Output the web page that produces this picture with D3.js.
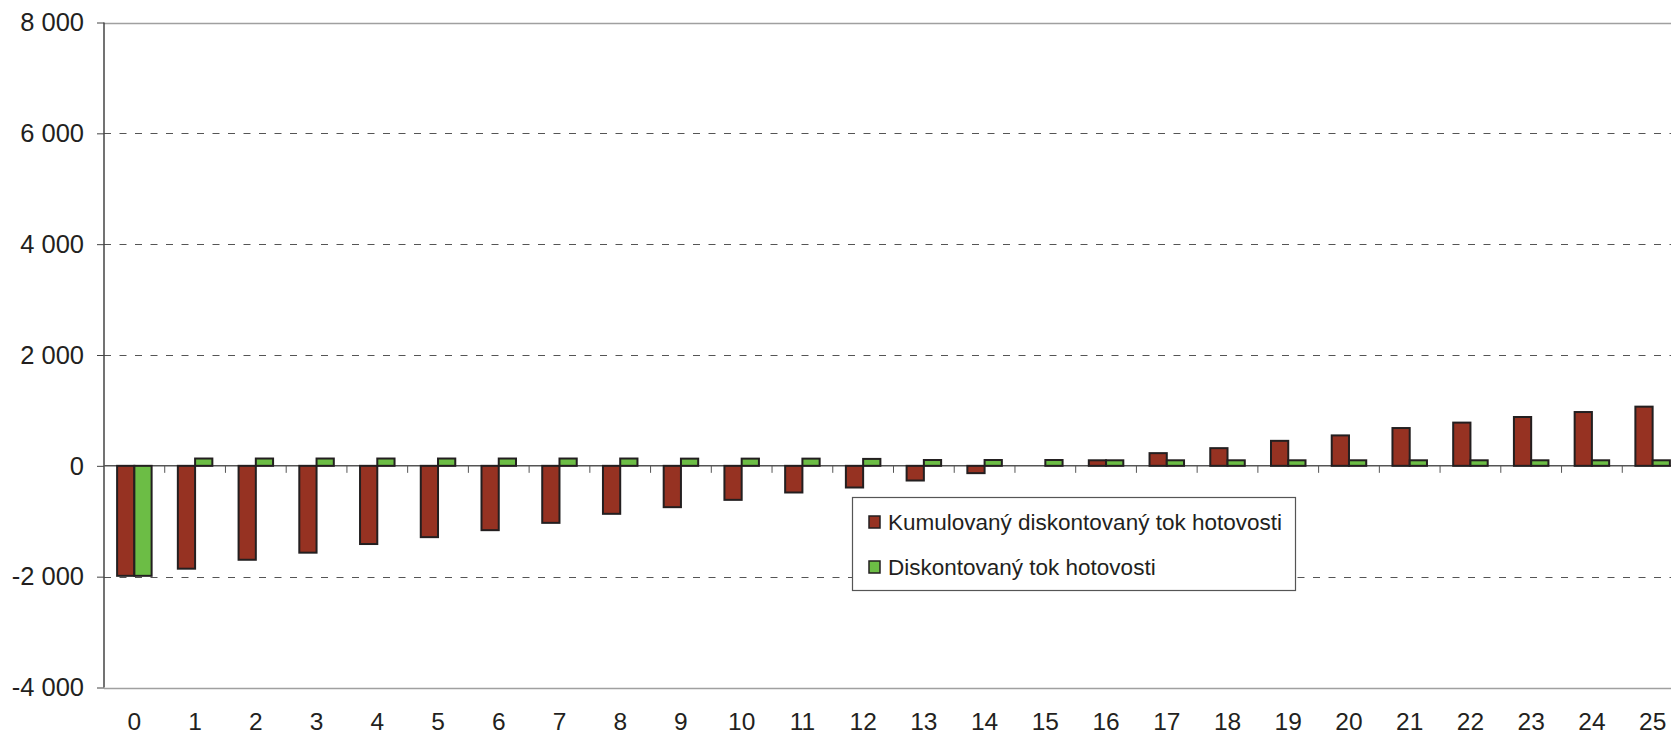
<!DOCTYPE html>
<html>
<head>
<meta charset="utf-8">
<script src="https://cdn.jsdelivr.net/npm/d3@7"></script>
<style>
    body { margin: 0; background: #fff; }
    svg { display: block; font-family: 'Liberation Sans', Arial, sans-serif; }
</style>
</head>
<body>
<div id="chart"></div>
<script>
const years = d3.range(0, 26).map(String);
const cumulative = [-1985, -1856, -1695, -1567, -1411, -1287, -1161, -1029, -866, -746, -614, -481, -391,
    -265, -132, 0, 100, 229, 319, 451, 549, 682, 780, 881, 971, 1068];
const discounted = [-1985, 132, 132, 132, 132, 132, 132, 132, 132, 130, 130, 130, 125,
    105, 105, 105, 100, 100, 100, 100, 100, 100, 100, 100, 100, 100];
const yTicks = [-4000, -2000, 0, 2000, 4000, 6000, 8000];
const seriesNames = ['Kumulovaný diskontovaný tok hotovosti', 'Diskontovaný tok hotovosti'];
const seriesColors = ['#963222', '#6cbd45'];

const width = 1671;
const height = 736;
const plotLeft = 104, plotRight = 1683, plotTop = 22.5, plotBottom = 687.5;
const ink = '#231f20';

const svg = d3.select('#chart').append('svg')
    .attr('width', width)
    .attr('height', height);

const x = d3.scaleBand().domain(years).range([plotLeft, plotRight]);
const inner = d3.scaleBand().domain([0, 1]).range([0, x.bandwidth()]).paddingOuter(0.76);
const y = d3.scaleLinear().domain([-4000, 8000]).range([plotBottom, plotTop]);

const fmt = v => d3.format(',')(v).replace(/,/g, ' ').replace('−', '-');

// gridlines
svg.append('g')
    .selectAll('line')
    .data(yTicks.filter(v => v !== 0 && v !== 8000 && v !== -4000))
    .join('line')
    .attr('x1', plotLeft).attr('x2', width)
    .attr('y1', d => Math.round(y(d)) + 0.5).attr('y2', d => Math.round(y(d)) + 0.5)
    .attr('stroke', '#555')
    .attr('stroke-dasharray', '7,8.5');

// plot border top / bottom
svg.append('g')
    .selectAll('line')
    .data([8000, -4000])
    .join('line')
    .attr('x1', plotLeft).attr('x2', width)
    .attr('y1', d => Math.round(y(d)) + 0.5).attr('y2', d => Math.round(y(d)) + 0.5)
    .attr('stroke', '#a0a0a0')
    .attr('stroke-width', 1.5);

// y axis
const yAxis = svg.append('g')
    .attr('transform', `translate(${plotLeft},0)`)
    .call(d3.axisLeft(y).tickValues(yTicks).tickFormat(fmt).tickSize(7).tickPadding(13));
yAxis.select('.domain').attr('stroke', '#444').attr('stroke-width', 1.5)
    .attr('d', `M0,${plotTop}V${plotBottom}`);
yAxis.selectAll('.tick line').attr('stroke', '#444');
yAxis.selectAll('text')
    .attr('fill', ink)
    .attr('font-size', 25.5)
    .attr('font-family', "'Liberation Sans', Arial, sans-serif");

// zero line
svg.append('line')
    .attr('x1', plotLeft).attr('x2', width)
    .attr('y1', y(0)).attr('y2', y(0))
    .attr('stroke', '#555')
    .attr('stroke-width', 1.5);

// x ticks at category boundaries
svg.append('g')
    .selectAll('line')
    .data(years.slice(1))
    .join('line')
    .attr('x1', d => x(d)).attr('x2', d => x(d))
    .attr('y1', y(0)).attr('y2', y(0) + 7)
    .attr('stroke', '#555');

// x labels
svg.append('g')
    .selectAll('text')
    .data(years)
    .join('text')
    .attr('x', d => x(d) + x.bandwidth() / 2)
    .attr('y', 730)
    .attr('text-anchor', 'middle')
    .attr('font-size', 24.5)
    .attr('fill', ink)
    .text(d => d);

// bars
const series = [cumulative, discounted];
series.forEach((vals, i) => {
    svg.append('g')
        .selectAll('rect')
        .data(vals.map((v, j) => ({ year: years[j], value: v })).filter(d => d.value !== 0))
        .join('rect')
        .attr('x', d => x(d.year) + inner(i))
        .attr('y', d => y(Math.max(0, d.value)))
        .attr('width', inner.bandwidth())
        .attr('height', d => Math.abs(y(d.value) - y(0)))
        .attr('fill', seriesColors[i])
        .attr('stroke', ink)
        .attr('stroke-width', 2);
});

// legend
const legend = svg.append('g');
legend.append('rect')
    .attr('x', 852.5).attr('y', 497.5)
    .attr('width', 443).attr('height', 93)
    .attr('fill', '#fff')
    .attr('stroke', '#555')
    .attr('stroke-width', 1.2);

const item = legend.selectAll('g.item')
    .data(seriesNames)
    .join('g')
    .attr('class', 'item')
    .attr('transform', (d, i) => `translate(0,${522 + i * 45})`);

item.append('rect')
    .attr('x', 869).attr('y', -6)
    .attr('width', 11).attr('height', 12)
    .attr('fill', (d, i) => seriesColors[i])
    .attr('stroke', ink)
    .attr('stroke-width', 1.5);

item.append('text')
    .attr('x', 888)
    .attr('y', 8)
    .attr('font-size', 22.5)
    .attr('fill', ink)
    .text(d => d);
</script>
</body>
</html>
